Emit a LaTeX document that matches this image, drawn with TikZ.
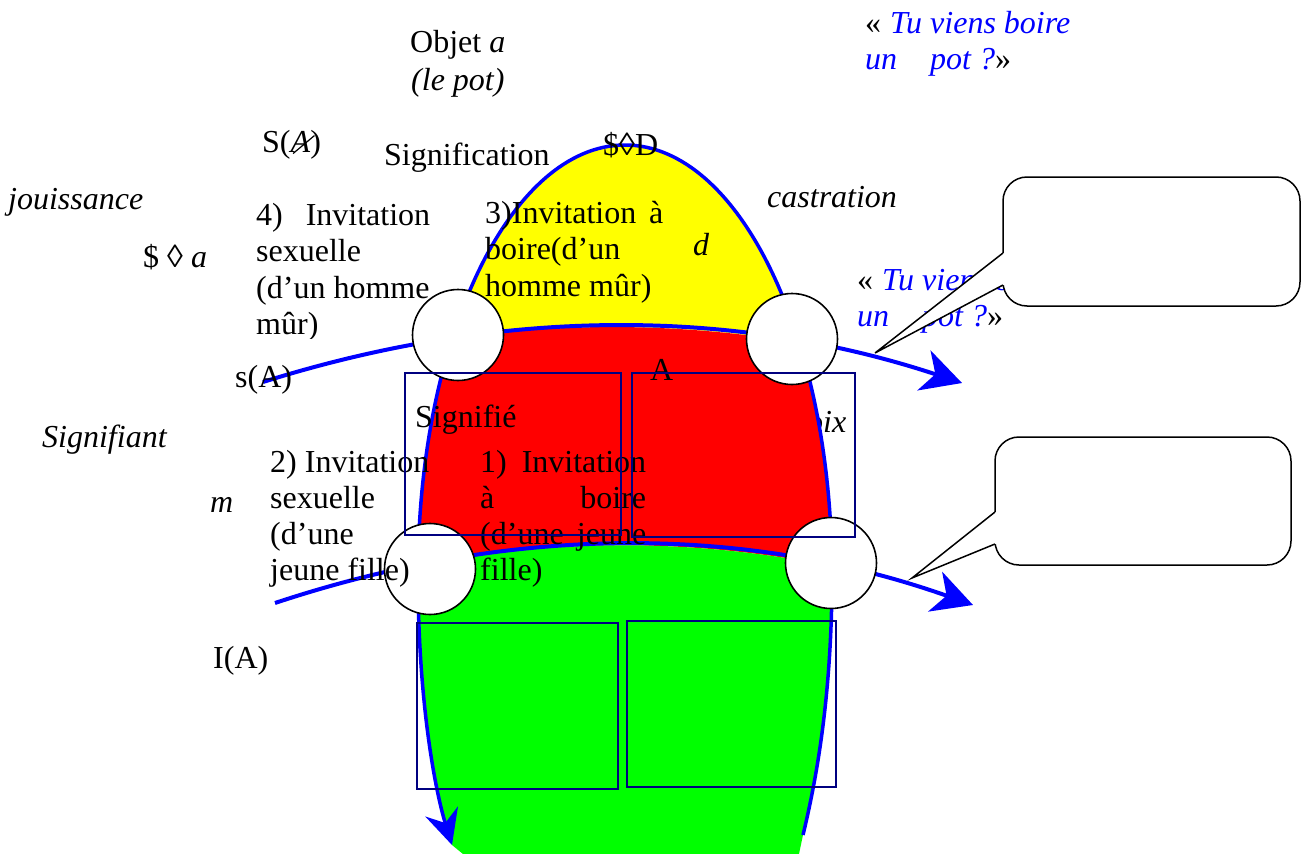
\documentclass[tikz,border=0pt]{standalone}
\usepackage{fontspec}
\setmainfont{Liberation Serif}
\usetikzlibrary{arrows.meta}
\definecolor{lineblue}{RGB}{0,0,255}
\definecolor{boxblue}{RGB}{0,0,128}
\definecolor{zoneY}{RGB}{255,255,0}
\definecolor{zoneR}{RGB}{255,0,0}
\definecolor{zoneG}{RGB}{0,255,0}
% barred italic A
\newcommand{\barredA}{\makebox[0pt][l]{\kern2pt\raisebox{-2pt}{\rotatebox{40}{\rule{28pt}{1.2pt}}}}\textit{A}}
\begin{document}
\begin{tikzpicture}[x=1pt,y=-1pt,
  lbl/.style={anchor=base west, inner sep=0pt, font=\fontsize{32}{36.5}\selectfont},
  lblit/.style={lbl, font=\fontsize{32}{36.5}\selectfont\itshape},
  ring/.style={circle, draw=black, fill=white, line width=1.6pt, minimum size=91pt, inner sep=0pt},
  frame/.style={rectangle, draw=boxblue, line width=1.8pt, inner sep=0pt},
  bubble/.style={rectangle, rounded corners=24pt, draw=black, fill=white, line width=1.5pt, inner sep=0pt},
  pointer/.style={draw=black, line width=1.5pt, line join=miter},
  outline/.style={draw=lineblue, line width=3.5pt},
  flow/.style={draw=lineblue, line width=4pt, -{Stealth[length=40pt,width=42pt,inset=12pt]}},
]
\useasboundingbox (0,0) rectangle (1302,854);
\fill[white] (0,0) rectangle (1302,854);

% the egg-shaped field
\def\eggpath{(452,845) .. controls (435,790) and (418,700) .. (418,575)
  .. controls (418,337.5) and (510.7,145) .. (625,145)
  .. controls (739.3,145) and (832,337.5) .. (832,575)
  .. controls (832,700) and (815,785) .. (803,835) -- (799,854) -- (463,854) -- cycle}

% label lying under the red zone
\node[lblit] (voix) at (791,432) {Voix};

% coloured zones, cut by the two horizontal curves
\begin{scope}
  \clip \eggpath;
  \fill[zoneY] (263,382) .. controls (495.7,308.7) and (728.7,308.7) .. (962,382)
     -- (962,0) -- (263,0) -- cycle;
  \fill[zoneR] (263,382) .. controls (495.7,308.7) and (728.7,308.7) .. (962,382)
     -- (973,604) .. controls (740.3,526) and (507.7,525.7) .. (275,603) -- cycle;
  \fill[zoneG] (275,603) .. controls (507.7,525.7) and (740.3,526) .. (973,604)
     -- (973,854) -- (275,854) -- cycle;
\end{scope}

% blue outline of the field
\path[outline] (418,575) .. controls (418,337.5) and (510.7,145) .. (625,145)
  .. controls (739.3,145) and (832,337.5) .. (832,575);
\path[outline, -{Stealth[length=35pt,width=34pt,inset=12pt]}]
  (418,575) .. controls (418,700) and (435,790) .. (452,845);
\path[outline] (832,575) .. controls (832,700) and (815,785) .. (803,835);

% the two vectors
\coordinate (upL) at (263,382);
\coordinate (upR) at (962,383);
\coordinate (loL) at (275,603);
\coordinate (loR) at (973,605);
\path[flow] (upL) .. controls (495.7,308.7) and (728.7,306) .. (upR);
\path[flow] (loL) .. controls (507.7,525.7) and (740.3,523) .. (loR);

% labels
\node[lbl] (objet) at (410,52) {Objet \textit{a}};
\node[lblit] (lepot) at (411,90) {(le pot)};
\node[lbl] (quoteA) at (865,33) {\vtop{\hbox{«\hspace{1pt} \textcolor{lineblue}{\itshape Tu viens boire}}\hbox{\textcolor{lineblue}{\itshape un\hspace*{33pt}pot ?}»}}};
\node[lbl] (SbA) at (262,152) {S(\barredA)};
\node[lbl] (signification) at (384,165) {Signification};
\node[lbl] (SD) at (603,155) {\$◊D};
\node[lblit] (jouissance) at (8,209) {jouissance};
\node[lblit] (castration) at (767,207) {castration};
\node[lbl] (Sa) at (143,267) {\$ ◊ \textit{a}};
\begin{scope}
  \clip (240,180) rectangle (445,338);
  \node[lbl] (inv4) at (256,225) {\vtop{\hbox to 174pt{4)\hfill Invitation}\hbox{sexuelle}\hbox{(d’un homme}\hbox{mûr)}}};
\end{scope}
\node[lbl] (inv3) at (485,223) {\vtop{\hbox to 178pt{3)Invitation\hfill à}\hbox{boire(d’un}\hbox{homme mûr)}}};
\node[lblit] (d) at (693,255) {d};
\node[lbl] (quoteB) at (857,290) {\vtop{\hbox{«\hspace{1pt} \textcolor{lineblue}{\itshape Tu viens boire}}\hbox{\textcolor{lineblue}{\itshape un\hspace*{33pt}pot ?}»}}};
\node[lbl] (sA) at (235,387) {s(A)};
\node[lbl] (A) at (650,380) {A};
\node[lbl] (signifie) at (415,427) {Signifié};
\node[lblit] (signifiant) at (42,447) {Signifiant};
\node[lblit] (m) at (210,512) {m};
\node[lbl] (IA) at (213,668) {I(A)};

% crossing points
\node[ring] (c1) at (458,335) {};
\node[ring] (c2) at (792,339) {};
\node[ring] (c3) at (430,569) {};
\node[ring] (c4) at (831,563) {};

\begin{scope}
  \clip (240,440) rectangle (480,590);
  \node[lbl, font=\fontsize{32}{36.3}\selectfont] (inv2) at (270,472) {\vtop{\hbox{2) Invitation}\hbox{sexuelle}\hbox{(d’une}\hbox{jeune fille)}}};
\end{scope}
\node[lbl, font=\fontsize{32}{36.3}\selectfont] (inv1) at (480,472) {\vtop{\hbox to 166pt{1)\hfill Invitation}\hbox to 166pt{à\hfill boire}\hbox to 166pt{(d’une\hfill jeune}\hbox{fille)}}};

% frames
\node[frame, minimum width=216pt, minimum height=162pt] (r1) at (513,454) {};
\node[frame, minimum width=223pt, minimum height=164pt] (r2) at (743.5,455) {};
\node[frame, minimum width=201pt, minimum height=166pt] (r3) at (517.5,706) {};
\node[frame, minimum width=209pt, minimum height=166pt] (r4) at (731.5,704) {};

% callouts
\node[bubble, minimum width=297pt, minimum height=129pt] (callA) at (1151.5,241.5) {};
\coordinate (tipA) at (875,353);
\coordinate (a1) at (1003,253);
\coordinate (a2) at (1003,285);
\fill[white] (tipA) -- (a1) -- ([xshift=3pt]a1) -- ([xshift=3pt]a2) -- (a2) -- cycle;
\path[pointer] (a1) -- (tipA) -- (a2);

\node[bubble, minimum width=296pt, minimum height=128pt] (callB) at (1143,501) {};
\coordinate (tipB) at (912,578);
\coordinate (b1) at (995,512);
\coordinate (b2) at (995,544);
\fill[white] (tipB) -- (b1) -- ([xshift=3pt]b1) -- ([xshift=3pt]b2) -- (b2) -- cycle;
\path[pointer] (b1) -- (tipB) -- (b2);
\end{tikzpicture}
\end{document}
